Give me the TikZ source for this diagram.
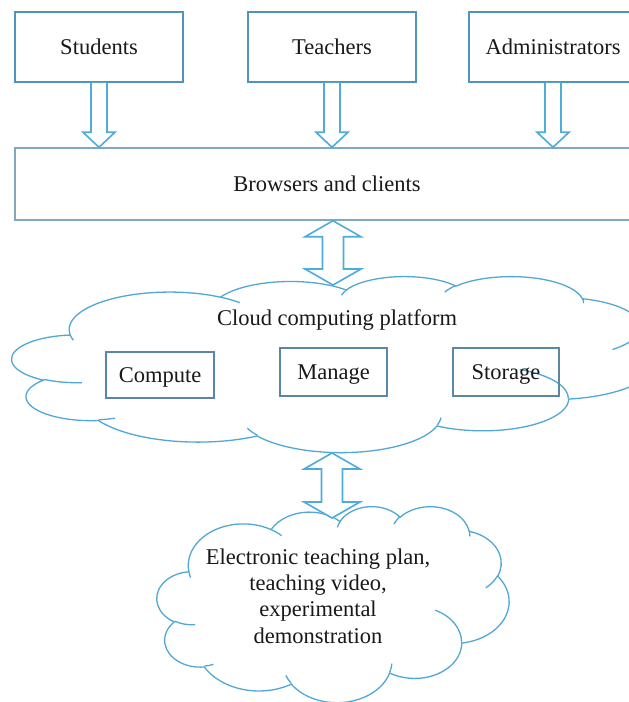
\documentclass[tikz,border=0pt]{standalone}
\usepackage{fontspec}
\setmainfont{Liberation Serif}
\usetikzlibrary{calc}
\definecolor{boxc}{RGB}{74,150,192}
\definecolor{bcc}{RGB}{130,168,192}
\definecolor{innc}{RGB}{90,135,165}
\definecolor{arrc}{RGB}{78,172,218}
\definecolor{cloudc}{RGB}{82,168,212}
\definecolor{txtc}{RGB}{25,25,25}
% Office-like cloud shape helpers
\newcommand\ooM[2]{\pgfpathmoveto{\pgfpoint{\ooL pt+#1*\oosx pt}{-\ooT pt-#2*\oosy pt}}}
\newcommand\ooA[4]{%
  \pgfmathsetmacro\ooa{#3}%
  \pgfmathsetmacro\oob{#3+#4}%
  \pgfmathsetmacro\oots{atan2(#1*sin(\ooa),#2*cos(\ooa))}%
  \pgfmathsetmacro\oote{atan2(#1*sin(\oob),#2*cos(\oob))}%
  \pgfmathsetmacro\ood{\oote-\oots}%
  \pgfmathsetmacro\ood{\ood<0?\ood+360:\ood}%
  \pgfmathsetmacro\ooe{\oots+\ood}%
  \pgfpatharcaxes{\oots}{\ooe}{\pgfpoint{#1*\oosx pt}{0pt}}{\pgfpoint{0pt}{-#2*\oosy pt}}}
\newcommand\officecloud[4]{%
  \pgfmathsetmacro\ooL{#1}\pgfmathsetmacro\ooT{#2}%
  \pgfmathsetmacro\oosx{#3/43.2}\pgfmathsetmacro\oosy{#4/43.2}%
  \begin{pgfscope}
  \pgfsetlinewidth{1.3pt}\pgfsetstrokecolor{cloudc}\pgfsetfillcolor{white}%
  \ooM{3.9}{14.37}%
  \ooA{6.753}{9.190}{-190.48748}{123.78053}%
  \ooA{5.333}{7.267}{-144.10238}{89.94523}%
  \ooA{4.365}{5.945}{-145.80792}{99.72302}%
  \ooA{4.857}{6.595}{-130.98607}{117.24173}%
  \ooA{5.333}{7.273}{-78.70888}{109.02692}%
  \ooA{6.775}{9.220}{-46.26725}{130.269}%
  \ooA{5.785}{7.867}{0.62502}{114.03333}%
  \ooA{6.752}{9.215}{22.4516}{115.17255}%
  \ooA{7.720}{10.543}{66.24263}{75.71102}%
  \ooA{4.360}{5.918}{-274.94208}{146.73557}%
  \ooA{4.345}{5.945}{-246.8285}{152.51885}%
  \pgfpathclose
  \pgfusepath{fill,stroke}%
  \ooM{4.693}{26.177}\ooA{4.345}{5.945}{86.742}{26.4295}%
  \ooM{6.928}{34.899}\ooA{4.360}{5.918}{73.6105}{11.4475}%
  \ooM{16.478}{39.090}\ooA{6.752}{9.215}{137.6242}{14.0811}%
  \ooM{28.827}{34.751}\ooA{6.752}{9.215}{6.4533}{15.9984}%
  \ooM{34.129}{22.954}\ooA{5.785}{7.867}{-70.2924}{70.9174}%
  \ooM{41.798}{15.354}\ooA{5.333}{7.273}{30.3180}{27.7515}%
  \ooM{38.324}{5.426}\ooA{4.857}{6.595}{-13.7443}{14.8589}%
  \ooM{29.078}{3.952}\ooA{4.857}{6.595}{-149.1815}{18.1954}%
  \ooM{22.141}{4.720}\ooA{4.365}{5.945}{-163.4943}{17.6864}%
  \ooM{14.000}{5.192}\ooA{6.753}{9.190}{-66.7070}{12.3194}%
  \ooM{4.127}{15.789}\ooA{6.753}{9.190}{157.6544}{11.8582}%
  \pgfusepath{stroke}%
  \end{pgfscope}}
\newcommand\downblk[2]{%
  \draw[blkarrow] let \p1=(#1.south), \p2=(#2.north) in
   (\x1-8pt,\y1) -- (\x1-8pt,\y2+15pt) -- (\x1-16pt,\y2+15pt) -- (\x1,\y2)
   -- (\x1+16pt,\y2+15pt) -- (\x1+8pt,\y2+15pt) -- (\x1+8pt,\y1);}
\newcommand\dblblk[3]{% top node/coord #1, bottom coord #2, x from #3
  \draw[blkarrow] let \p1=(#1), \p2=(#2), \p3=(#3) in
   (\x3,\y1) -- (\x3+28pt,\y1-16pt) -- (\x3+10.5pt,\y1-16pt) -- (\x3+10.5pt,\y2+16pt)
   -- (\x3+28pt,\y2+16pt) -- (\x3,\y2) -- (\x3-28pt,\y2+16pt) -- (\x3-10.5pt,\y2+16pt)
   -- (\x3-10.5pt,\y1-16pt) -- (\x3-28pt,\y1-16pt) -- cycle;}
\begin{document}
\begin{tikzpicture}[x=1pt,y=-1pt,
  lbl/.style={font=\fontsize{22.5pt}{26.3pt}\selectfont, text=txtc, inner sep=0pt},
  topbox/.style={lbl, draw=boxc, line width=1.7pt, rectangle, minimum width=168pt, minimum height=70pt, text height=15pt, text depth=0pt},
  bcbox/.style={lbl, draw=bcc, line width=1.5pt, rectangle, minimum width=624pt, minimum height=72pt, text height=15pt, text depth=0pt},
  innerbox/.style={lbl, draw=innc, line width=1.5pt, rectangle, minimum height=47pt, text height=15pt, text depth=0pt},
  blkarrow/.style={draw=arrc, line width=1.6pt, line join=miter, fill=white}]
\useasboundingbox (0,0) rectangle (629,702);
\clip (0,0) rectangle (629,702);
\fill[white] (0,0) rectangle (629,702);
% top boxes
\node[topbox] (stu) at (99,47) {Students};
\node[topbox] (tea) at (332,47) {Teachers};
\node[topbox] (adm) at (553,47) {Administrators};
\node[bcbox] (bc) at (327,184) {Browsers and clients};
% clouds
\officecloud{12}{276}{643}{176}
\officecloud{157}{506}{352}{196}
\coordinate (c1top) at (333,285);
\coordinate (c1bot) at (332,453);
\coordinate (c2top) at (332,518);
\node[lbl, anchor=base] (cloudtxt) at (337,325) {Cloud computing platform};
\node[innerbox, minimum width=108pt, minimum height=46pt] (cmp) at (160,375) {Compute};
\node[innerbox, minimum width=107pt, minimum height=48pt] (mng) at (333.5,372) {Manage};
\node[innerbox, minimum width=106pt, minimum height=48pt] (sto) at (506,372) {Storage};
\node[lbl, align=center] (restxt) at (318,596) {Electronic teaching plan,\\teaching video,\\experimental\\demonstration};
% arrows
\downblk{stu}{bc}
\downblk{tea}{bc}
\downblk{adm}{bc}
\dblblk{bc.south}{c1top}{c1top}
\dblblk{c1bot}{c2top}{c1bot}
\end{tikzpicture}
\end{document}
